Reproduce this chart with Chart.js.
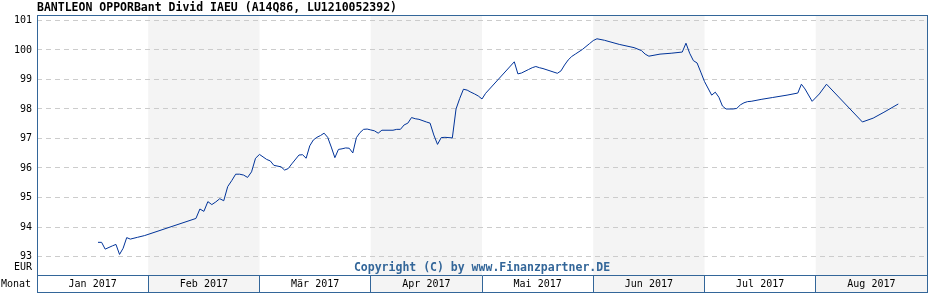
<!DOCTYPE html>
<html>
<head>
<meta charset="utf-8">
<script src="https://cdn.jsdelivr.net/npm/chart.js@4.4.1/dist/chart.umd.min.js"></script>
<style>
  html, body { margin: 0; padding: 0; background: #ffffff; }
  canvas { display: block; }
</style>
</head>
<body>
<canvas id="c" width="928" height="300"></canvas>
<script>
// ---- data ----
const titleText = 'BANTLEON OPPORBant Divid IAEU (A14Q86, LU1210052392)';
const copyrightText = 'Copyright (C) by www.Finanzpartner.DE';
const monthLabels = ['Jan 2017', 'Feb 2017', 'Mär 2017', 'Apr 2017', 'Mai 2017', 'Jun 2017', 'Jul 2017', 'Aug 2017'];
const monthDays = [31, 28, 31, 30, 31, 30, 31, 31];
const yTicks = [93, 94, 95, 96, 97, 98, 99, 100, 101];
const yUnit = 'EUR';
const xUnit = 'Monat';

const dates = [
  '2017-01-18','2017-01-19','2017-01-20','2017-01-22','2017-01-23','2017-01-24','2017-01-25','2017-01-26','2017-01-27','2017-01-29','2017-01-31',
  '2017-02-13','2017-02-14','2017-02-15','2017-02-16','2017-02-17','2017-02-18','2017-02-19','2017-02-20','2017-02-21','2017-02-22','2017-02-23','2017-02-24','2017-02-25','2017-02-26','2017-02-27','2017-02-28',
  '2017-03-01','2017-03-03','2017-03-04','2017-03-05','2017-03-07','2017-03-08','2017-03-09','2017-03-10','2017-03-12','2017-03-13','2017-03-14','2017-03-15','2017-03-16','2017-03-17','2017-03-18','2017-03-19','2017-03-20','2017-03-21','2017-03-22','2017-03-23','2017-03-24','2017-03-25','2017-03-26','2017-03-27','2017-03-28','2017-03-29','2017-03-30','2017-03-31',
  '2017-04-01','2017-04-02','2017-04-03','2017-04-04','2017-04-07','2017-04-08','2017-04-09','2017-04-10','2017-04-11','2017-04-12','2017-04-13','2017-04-14','2017-04-16','2017-04-17','2017-04-18','2017-04-19','2017-04-20','2017-04-21','2017-04-23','2017-04-24','2017-04-25','2017-04-26','2017-04-27','2017-04-28','2017-04-29','2017-04-30',
  '2017-05-01','2017-05-02','2017-05-10','2017-05-11','2017-05-12','2017-05-14','2017-05-15','2017-05-16','2017-05-17','2017-05-18','2017-05-22','2017-05-23','2017-05-24','2017-05-25','2017-05-26','2017-05-27','2017-05-29','2017-05-31',
  '2017-06-01','2017-06-02','2017-06-04','2017-06-08','2017-06-12','2017-06-14','2017-06-15','2017-06-16','2017-06-19','2017-06-22','2017-06-25','2017-06-26','2017-06-27','2017-06-28','2017-06-29','2017-06-30',
  '2017-07-01','2017-07-03','2017-07-04','2017-07-05','2017-07-06','2017-07-07','2017-07-09','2017-07-10','2017-07-11','2017-07-12','2017-07-13','2017-07-14','2017-07-17','2017-07-20','2017-07-24','2017-07-27','2017-07-28','2017-07-29','2017-07-31',
  '2017-08-02','2017-08-04','2017-08-14','2017-08-17','2017-08-20','2017-08-24'
];
const prices = [
  93.48,93.48,93.25,93.36,93.41,93.07,93.28,93.64,93.59,93.65,93.71,
  94.29,94.61,94.53,94.86,94.76,94.85,94.96,94.89,95.37,95.57,95.79,95.79,95.76,95.68,95.87,96.33,
  96.46,96.29,96.24,96.09,96.04,95.93,95.98,96.14,96.44,96.45,96.33,96.75,96.95,97.04,97.10,97.18,97.04,96.71,96.35,96.63,96.65,96.68,96.67,96.51,97.03,97.20,97.31,97.32,
  97.29,97.26,97.18,97.28,97.28,97.31,97.31,97.46,97.52,97.71,97.67,97.65,97.56,97.52,97.12,96.80,97.03,97.04,97.02,98.00,98.36,98.67,98.64,98.57,98.51,98.44,
  98.34,98.53,99.60,99.19,99.22,99.34,99.40,99.44,99.40,99.37,99.21,99.29,99.49,99.66,99.78,99.86,100.02,100.22,
  100.32,100.38,100.33,100.19,100.08,99.98,99.86,99.79,99.86,99.89,99.93,100.23,99.89,99.64,99.56,99.25,
  98.93,98.47,98.57,98.40,98.10,98.00,98.00,98.02,98.14,98.21,98.25,98.26,98.33,98.39,98.47,98.54,98.84,98.68,98.26,
  98.51,98.84,97.56,97.69,97.89,98.17
];

// position on the month axis: each month takes one unit
function monthPos(d) {
  const [yy, mm, dd] = d.split('-').map(Number);
  const m = (yy - 2017) * 12 + (mm - 1);
  return m + (dd - 1) / monthDays[m];
}
const points = dates.map((d, i) => ({ x: monthPos(d), y: prices[i] }));

const MONO = "'DejaVu Sans Mono', 'Liberation Mono', monospace";
const FRAME = '#336699';
const SHADE = '#f4f4f4';

const decor = {
  id: 'decor',
  beforeDraw(chart) {
    const { ctx, chartArea: a, scales } = chart;
    const x = scales.x, xm = scales.xm;
    const bandBottom = xm.top + 17;
    ctx.save();
    ctx.fillStyle = SHADE;
    for (let m = 1; m < monthLabels.length; m += 2) {
      const x0 = x.getPixelForValue(m), x1 = x.getPixelForValue(m + 1);
      ctx.fillRect(x0, a.top, x1 - x0, bandBottom - a.top);
    }
    ctx.restore();
  },
  afterDraw(chart) {
    const { ctx, chartArea: a, scales } = chart;
    const xm = scales.xm;
    const bandBottom = xm.top + 17;
    ctx.save();
    ctx.strokeStyle = FRAME;
    ctx.lineWidth = 1;
    ctx.strokeRect(a.left + 0.5, a.top + 0.5, a.right - a.left, bandBottom - a.top);
    // texts
    ctx.fillStyle = '#000';
    ctx.textBaseline = 'middle';
    ctx.font = 'bold 11.5px ' + MONO;
    ctx.textAlign = 'left';
    ctx.fillText(titleText, a.left, 8.5);
    ctx.font = '10px ' + MONO;
    ctx.textAlign = 'right';
    ctx.fillText(yUnit, a.left - 5, 267.5);
    ctx.fillText(xUnit, a.left - 6, 284.5);
    ctx.font = 'bold 11.5px ' + MONO;
    ctx.textAlign = 'center';
    ctx.fillStyle = FRAME;
    ctx.fillText(copyrightText, (a.left + a.right) / 2, 268);
    ctx.restore();
  }
};

new Chart(document.getElementById('c'), {
  type: 'line',
  data: {
    datasets: [{
      data: points,
      borderColor: '#003399',
      borderWidth: 1,
      pointRadius: 0,
      tension: 0,
      fill: false
    }]
  },
  options: {
    responsive: false,
    animation: false,
    devicePixelRatio: 1,
    layout: { padding: { top: 15, right: 1, left: 0, bottom: 0 } },
    plugins: {
      legend: { display: false },
      tooltip: { enabled: false },
      title: { display: false }
    },
    scales: {
      x: { type: 'linear', min: 0, max: monthLabels.length, display: false },
      xm: {
        type: 'category',
        labels: monthLabels,
        position: 'bottom',
        offset: true,
        grid: { offset: true, drawOnChartArea: false, drawTicks: true, tickLength: 17, color: FRAME, lineWidth: 1 },
        border: { display: true, color: FRAME, width: 1 },
        ticks: { padding: -14, color: '#000', font: { family: MONO, size: 10 }, maxRotation: 0, autoSkip: false },
        afterFit(s) { s.height = 25; }
      },
      y: {
        type: 'linear',
        min: 92.373,
        max: 101.186,
        position: 'left',
        afterBuildTicks(s) { s.ticks = yTicks.map(v => ({ value: v })); },
        afterFit(s) { s.width = 37; },
        grid: { color: '#cccccc', drawTicks: false, lineWidth: 1 },
        border: { display: false, dash: [5, 4] },
        ticks: { padding: 5, color: '#000', font: { family: MONO, size: 10 }, callback: v => String(v) }
      }
    }
  },
  plugins: [decor]
});
</script>
</body>
</html>
